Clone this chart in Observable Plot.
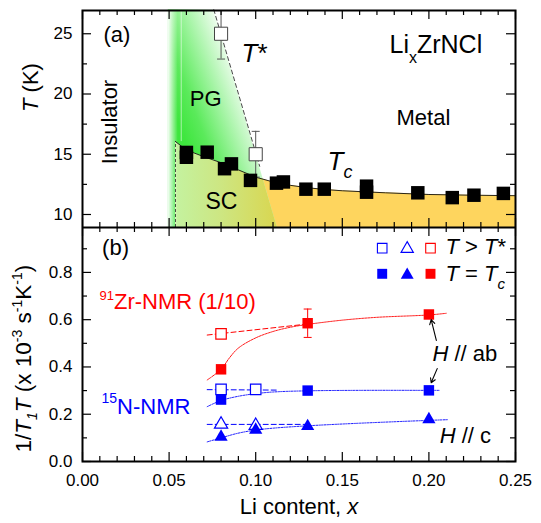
<!DOCTYPE html>
<html><head><meta charset="utf-8">
<script src="https://cdn.jsdelivr.net/npm/d3@7"></script>
<script src="https://cdn.jsdelivr.net/npm/@observablehq/plot@0.6"></script>
<style>
html,body{margin:0;padding:0;background:#fff;}
#chart{width:541px;}
#chart svg{display:block;}
</style></head><body><div id="chart"></div>
<script>
// ---------- data: panel (a) ----------
const tcX = [0.06, 0.06, 0.072, 0.082, 0.086, 0.097, 0.112, 0.116, 0.129, 0.1396, 0.164, 0.164, 0.1936, 0.2135, 0.226, 0.243];
const tcT = [15.15, 14.75, 15.17, 13.8, 14.2, 12.83, 12.6, 12.7, 12.1, 12.1, 12.35, 11.85, 11.8, 11.4, 11.6, 11.75];
const tStarX = [0.08, 0.10];
const tStarT = [25, 15];
const tStarErr = [2.1, 1.9];
const tcCurveX = [0.0537, 0.06, 0.07, 0.08, 0.09, 0.10, 0.11, 0.12, 0.13, 0.14, 0.15, 0.175, 0.20, 0.225, 0.25];
const tcCurveT = [16.05, 15.35, 14.8, 14.3, 13.7, 13.1, 12.7, 12.42, 12.22, 12.07, 11.97, 11.8, 11.66, 11.6, 11.56];
const tStarLineX = [0.0758, 0.1023];
const tStarLineT = [27, 14];
const pgEdgeX = [0.1125, 0.0758];
const pgEdgeT = [8.9, 27];
const pgLeftX = 0.0495;
const scLeftX = 0.0537;

// ---------- data: panel (b) ----------
const redOpenX = [0.08], redOpenY = [0.54];
const redX = [0.08, 0.13, 0.20], redY = [0.39, 0.585, 0.622];
const redErrX = [0.13], redErrLo = [0.525], redErrHi = [0.645];
const bSqOpenX = [0.08, 0.10], bSqOpenY = [0.305, 0.305];
const bSqX = [0.08, 0.13, 0.20], bSqY = [0.262, 0.300, 0.301];
const bTriOpenX = [0.08, 0.10], bTriOpenY = [0.157, 0.152];
const bTriX = [0.08, 0.10, 0.13, 0.20], bTriY = [0.104, 0.134, 0.149, 0.178];
const redDashX = [0.072, 0.128], redDashY = [0.535, 0.580];
const redFitX = [0.072, 0.08, 0.085, 0.09, 0.10, 0.11, 0.12, 0.13, 0.15, 0.17, 0.20, 0.21];
const redFitY = [0.345, 0.39, 0.44, 0.48, 0.523, 0.55, 0.568, 0.58, 0.598, 0.61, 0.62, 0.627];
const bSqDashX = [0.072, 0.113], bSqDashY = [0.304, 0.302];
const bSqFitX = [0.072, 0.08, 0.09, 0.10, 0.11, 0.13, 0.16, 0.20, 0.206];
const bSqFitY = [0.232, 0.258, 0.276, 0.287, 0.294, 0.299, 0.301, 0.301, 0.301];
const bTriDashX = [0.072, 0.13], bTriDashY = [0.157, 0.157];
const bTriFitX = [0.072, 0.08, 0.09, 0.10, 0.11, 0.13, 0.16, 0.20, 0.211];
const bTriFitY = [0.083, 0.10, 0.12, 0.133, 0.141, 0.151, 0.162, 0.174, 0.177];
const arrowX1 = [0.2043, 0.2048], arrowY1 = [0.512, 0.393];
const arrowX2 = [0.2013, 0.2013], arrowY2 = [0.600, 0.333];

// ---------- ticks ----------
const xMajor = [0, 0.05, 0.10, 0.15, 0.20, 0.25];
const xMinor = [0.01,0.02,0.03,0.04,0.06,0.07,0.08,0.09,0.11,0.12,0.13,0.14,0.16,0.17,0.18,0.19,0.21,0.22,0.23,0.24];
const xLabels = ["0.00", "0.05", "0.10", "0.15", "0.20", "0.25"];
const tMajor = [10, 15, 20, 25], tMinor = [12.5, 17.5, 22.5];
const tLabels = ["10", "15", "20", "25"];
const rMajor = [0, 0.2, 0.4, 0.6, 0.8], rMinor = [0.1, 0.3, 0.5, 0.7, 0.9];
const rLabels = ["0.0", "0.2", "0.4", "0.6", "0.8"];

const zip = (xs, ys, kx = "x", ky = "y") => xs.map((x, i) => ({[kx]: x, [ky]: ys[i]}));
const BLUE = "#0000ff", RED = "#ff0000";
const FONT = "'Liberation Sans', Arial, sans-serif";
const W = 541, ML = 82, MR = 26;
const FW = W - ML - MR;

function frameTicks(yMaj, yMin, fh) {
  const S = {stroke: "black", strokeWidth: 1.2};
  return [
    Plot.tickX(xMajor, {x: d => d, insetTop: fh - 9, ...S}),
    Plot.tickX(xMajor, {x: d => d, insetBottom: fh - 9, ...S}),
    Plot.tickX(xMinor, {x: d => d, insetTop: fh - 5, ...S}),
    Plot.tickX(xMinor, {x: d => d, insetBottom: fh - 5, ...S}),
    Plot.tickY(yMaj, {y: d => d, insetRight: FW - 9, ...S}),
    Plot.tickY(yMaj, {y: d => d, insetLeft: FW - 9, ...S}),
    Plot.tickY(yMin, {y: d => d, insetRight: FW - 5, ...S}),
    Plot.tickY(yMin, {y: d => d, insetLeft: FW - 5, ...S}),
    Plot.frame({stroke: "black", strokeWidth: 2})
  ];
}
const capSymbol = {draw(ctx, size) { const w = Math.sqrt(size); ctx.moveTo(-w / 2, 0); ctx.lineTo(w / 2, 0); }};
const label = (txt, o) => Plot.text([txt], {text: d => d, frameAnchor: "top-left", textAnchor: "start", lineAnchor: "middle", fill: "black", fontSize: 22, ...o});

// ---------- panel (a) ----------
const TD = [8.92, 26.93];
const topH = 227, topMT = 10, topMB = 0, FHT = topH - topMT - topMB;
const tcPts = zip(tcX, tcT, "x", "T");
const tStar = tStarX.map((x, i) => ({x, T: tStarT[i], e: tStarErr[i]}));
const tStarCaps = tStar.flatMap(d => [{x: d.x, T: d.T - d.e}, {x: d.x, T: d.T + d.e}]);
const tcCurve = zip(tcCurveX, tcCurveT, "x", "T");
const tStarLine = zip(tStarLineX, tStarLineT, "x", "T");
const pgEdge = zip(pgEdgeX, pgEdgeT, "x", "T");

const topPlot = Plot.plot({
  width: W, height: topH, marginLeft: ML, marginRight: MR, marginTop: topMT, marginBottom: topMB,
  x: {domain: [0, 0.25], axis: null},
  y: {domain: TD, axis: null},
  style: {fontFamily: FONT, fontSize: "17px", color: "black", background: "white"},
  marks: [
    Plot.areaY(tcCurve, {x: "x", y1: TD[0], y2: "T", fill: "#fed55e"}),
    Plot.areaX(pgEdge, {y: "T", x1: pgLeftX, x2: "x", fill: "url(#pgGrad)"}),
    Plot.areaY(tcCurve, {x: "x", y1: TD[0], y2: "T", fill: "url(#scGrad)"}),
    Plot.rect([0], {x1: 0.0493, x2: 0.0553, fill: "url(#fadeGrad)"}),
    Plot.ruleX([0.057], {y1: 16.05, y2: TD[1], stroke: "white", strokeOpacity: 0.55}),
    Plot.ruleX([scLeftX], {y1: TD[0], y2: 16.05, stroke: "#222", strokeWidth: 0.8, strokeDasharray: "3,2"}),
    Plot.line(tcCurve, {x: "x", y: "T", stroke: "#111", strokeWidth: 0.9}),
    Plot.line(tStarLine, {x: "x", y: "T", stroke: "#333", strokeWidth: 0.9, strokeDasharray: "4,3"}),
    Plot.ruleX(tStar, {x: "x", y1: d => d.T - d.e, y2: d => d.T + d.e, stroke: "#555", strokeWidth: 1, clip: true}),
    Plot.dot(tStarCaps, {x: "x", y: "T", symbol: capSymbol, r: 4.5, fill: "none", stroke: "#555", strokeWidth: 1, clip: true}),
    Plot.dot(tStar, {x: "x", y: "T", symbol: "square", r: 7.4, fill: "white", stroke: "#444", strokeWidth: 1}),
    Plot.dot(tcPts, {x: "x", y: "T", symbol: "square", r: 7.6, fill: "black"}),
    ...frameTicks(tMajor, tMinor, FHT),
    Plot.text(tMajor, {y: d => d, text: (d, i) => tLabels[i], frameAnchor: "left", textAnchor: "end", dx: -10, fontSize: 17, fill: "black"}),
    Plot.text(["T (K)"], {text: d => d, frameAnchor: "left", dx: -52, dy: -7, rotate: -90, fontSize: 22, fill: "black"}),
    label("(a)", {dx: 21, dy: 24.5}),
    label("LixZrNCl", {dx: 307, dy: 34, fontSize: 25}),
    label("T*", {dx: 159, dy: 43.3, fontSize: 26}),
    label("PG", {dx: 107.3, dy: 88.7}),
    label("Insulator", {dx: 27.2, dy: 111.5, rotate: -90, textAnchor: "middle"}),
    label("Metal", {dx: 314, dy: 107.5}),
    label("Tc", {dx: 245, dy: 150.8, fontSize: 26}),
    label("SC", {dx: 123, dy: 191, fontSize: 23})
  ]
});

// ---------- panel (b) ----------
const RD = [0, 0.99];
const botH = 296, botMT = 0, botMB = 62, FHB = botH - botMT - botMB;
const sq = {symbol: "square", r: 5.9};
const tri = {symbol: "triangle", r: 4.9};
const botPlot = Plot.plot({
  width: W, height: botH, marginLeft: ML, marginRight: MR, marginTop: botMT, marginBottom: botMB,
  x: {domain: [0, 0.25], axis: null},
  y: {domain: RD, axis: null},
  style: {fontFamily: FONT, fontSize: "17px", color: "black", background: "white"},
  marks: [
    Plot.line(zip(redDashX, redDashY), {x: "x", y: "y", stroke: RED, strokeWidth: 1, strokeDasharray: "5,3"}),
    Plot.line(zip(redFitX, redFitY), {x: "x", y: "y", stroke: RED, strokeWidth: 0.9, strokeDasharray: "2,1", curve: "catmull-rom"}),
    Plot.line(zip(bSqDashX, bSqDashY), {x: "x", y: "y", stroke: BLUE, strokeWidth: 1, strokeDasharray: "5,3"}),
    Plot.line(zip(bSqFitX, bSqFitY), {x: "x", y: "y", stroke: BLUE, strokeWidth: 0.9, strokeDasharray: "1.5,1.2", curve: "catmull-rom"}),
    Plot.line(zip(bTriDashX, bTriDashY), {x: "x", y: "y", stroke: BLUE, strokeWidth: 1, strokeDasharray: "5,3"}),
    Plot.line(zip(bTriFitX, bTriFitY), {x: "x", y: "y", stroke: BLUE, strokeWidth: 0.9, strokeDasharray: "1.5,1.2", curve: "catmull-rom"}),
    Plot.ruleX(redErrX, {x: d => d, y1: (d, i) => redErrLo[i], y2: (d, i) => redErrHi[i], stroke: RED, strokeWidth: 1}),
    Plot.dot(redErrX.flatMap((x, i) => [{x, y: redErrLo[i]}, {x, y: redErrHi[i]}]), {x: "x", y: "y", symbol: capSymbol, r: 4.5, fill: "none", stroke: RED, strokeWidth: 1}),
    Plot.dot(zip(redOpenX, redOpenY), {x: "x", y: "y", ...sq, fill: "white", stroke: RED, strokeWidth: 1.2}),
    Plot.dot(zip(redX, redY), {x: "x", y: "y", ...sq, fill: RED}),
    Plot.dot(zip(bSqOpenX, bSqOpenY), {x: "x", y: "y", ...sq, fill: "white", stroke: BLUE, strokeWidth: 1.2}),
    Plot.dot(zip(bSqX, bSqY), {x: "x", y: "y", ...sq, fill: BLUE}),
    Plot.dot(zip(bTriOpenX, bTriOpenY), {x: "x", y: "y", ...tri, fill: "white", stroke: BLUE, strokeWidth: 1.2}),
    Plot.dot(zip(bTriX, bTriY), {x: "x", y: "y", ...tri, fill: BLUE}),
    Plot.arrow(arrowX1.map((x, i) => ({x1: x, y1: arrowY1[i], x2: arrowX2[i], y2: arrowY2[i]})), {x1: "x1", y1: "y1", x2: "x2", y2: "y2", stroke: "black", strokeWidth: 1.1, headLength: 7}),
    ...frameTicks(rMajor, rMinor, FHB),
    Plot.text(rMajor, {y: d => d, text: (d, i) => rLabels[i], frameAnchor: "left", textAnchor: "end", dx: -10, fontSize: 17, fill: "black"}),
    Plot.text(xMajor, {x: d => d, text: (d, i) => xLabels[i], frameAnchor: "bottom", lineAnchor: "top", dy: 12, fontSize: 17, fill: "black"}),
    Plot.text(["1/T1T (x 10-3 s-1K-1)"], {text: d => d, frameAnchor: "bottom-left", textAnchor: "start", dx: -52, dy: -9, rotate: -90, fontSize: 22.5, fill: "black"}),
    Plot.text(["Li content, x"], {text: d => d, frameAnchor: "bottom", dy: 52.3, fontSize: 22, fill: "black"}),
    label("(b)", {dx: 19.6, dy: 20.5}),
    label("91Zr-NMR (1/10)", {dx: 17, dy: 74, fill: RED}),
    label("15N-NMR", {dx: 19, dy: 179, fill: BLUE}),
    label("H // ab", {dx: 350, dy: 126.3}),
    label("H // c", {dx: 357.2, dy: 208}),
    // legend
    Plot.dot([0], {frameAnchor: "top-left", dx: 299.7, dy: 20.7, symbol: "square", r: 5.4, fill: "white", stroke: BLUE, strokeWidth: 1.1}),
    Plot.dot([0], {frameAnchor: "top-left", dx: 324.7, dy: 21.3, symbol: "triangle", r: 4.6, fill: "white", stroke: BLUE, strokeWidth: 1.1}),
    Plot.dot([0], {frameAnchor: "top-left", dx: 348, dy: 20.7, symbol: "square", r: 5.4, fill: "white", stroke: RED, strokeWidth: 1.1}),
    Plot.dot([0], {frameAnchor: "top-left", dx: 299.7, dy: 46.3, symbol: "square", r: 5.6, fill: BLUE}),
    Plot.dot([0], {frameAnchor: "top-left", dx: 324.7, dy: 47.5, symbol: "triangle", r: 4.8, fill: BLUE}),
    Plot.dot([0], {frameAnchor: "top-left", dx: 348, dy: 46.3, symbol: "square", r: 5.6, fill: RED}),
    label("T > T*", {dx: 363, dy: 19.3}),
    label("T = Tc", {dx: 363, dy: 46.7})
  ]
});

// ---------- post-processing: gradients and rich text ----------
const NS = "http://www.w3.org/2000/svg";
function addDefs(svg, html) {
  const defs = document.createElementNS(NS, "defs");
  defs.innerHTML = html;
  svg.insertBefore(defs, svg.firstChild);
}
const sx = topPlot.scale("x"), sy = topPlot.scale("y");
addDefs(topPlot, `
  <linearGradient id="pgGrad" gradientUnits="userSpaceOnUse" x1="${sx.apply(0.057)}" y1="${sy.apply(17)}" x2="${sx.apply(0.0997)}" y2="${sy.apply(19.34)}">
    <stop offset="0" stop-color="#3ee63e"/>
    <stop offset="0.25" stop-color="#5bea5b"/>
    <stop offset="0.5" stop-color="#92f292"/>
    <stop offset="0.75" stop-color="#c9f8c9"/>
    <stop offset="1" stop-color="#ffffff"/>
  </linearGradient>
  <linearGradient id="scGrad" gradientUnits="userSpaceOnUse" x1="${sx.apply(0.0537)}" y1="0" x2="${sx.apply(0.1125)}" y2="0">
    <stop offset="0" stop-color="#c4f2a0"/>
    <stop offset="0.45" stop-color="#cde682"/>
    <stop offset="1" stop-color="#d9d650"/>
  </linearGradient>
  <linearGradient id="fadeGrad" x1="0" y1="0" x2="1" y2="0">
    <stop offset="0" stop-color="#ffffff" stop-opacity="1"/>
    <stop offset="1" stop-color="#ffffff" stop-opacity="0"/>
  </linearGradient>`);
function pathOf(svg, fill) {
  const el = svg.querySelector(`[fill="${fill}"]`);
  return el.tagName.toLowerCase() === "path" ? el : el.querySelector("path");
}
const pgPath = pathOf(topPlot, "url(#pgGrad)");
const clip = document.createElementNS(NS, "clipPath");
clip.setAttribute("id", "pgClip");
const cp = document.createElementNS(NS, "path");
cp.setAttribute("d", pgPath.getAttribute("d"));
clip.appendChild(cp);
topPlot.querySelector("defs").appendChild(clip);
pathOf(topPlot, "url(#scGrad)").setAttribute("clip-path", "url(#pgClip)");

function rich(svg, plain, parts) {
  for (const t of svg.querySelectorAll("text")) {
    if (t.textContent === plain) {
      t.textContent = "";
      for (const p of parts) {
        const s = document.createElementNS(NS, "tspan");
        s.textContent = p.t;
        if (p.i) s.setAttribute("font-style", "italic");
        if (p.s) s.setAttribute("font-size", p.s);
        if (p.b) s.setAttribute("baseline-shift", p.b);
        t.appendChild(s);
      }
    }
  }
}
const N = t => ({t}), I = t => ({t, i: true});
rich(topPlot, "T (K)", [I("T"), N(" (K)")]);
rich(topPlot, "LixZrNCl", [N("Li"), {t: "x", s: 16, b: -10}, N("ZrNCl")]);
rich(topPlot, "T*", [I("T"), N("*")]);
rich(topPlot, "Tc", [I("T"), {t: "c", i: true, s: 18, b: -8}]);
rich(botPlot, "1/T1T (x 10-3 s-1K-1)", [N("1/"), I("T"), {t: "1", i: true, s: 14, b: -6}, I("T"), N(" (x 10"), {t: "-3", s: 14, b: 9}, N(" s"), {t: "-1", s: 14, b: 9}, N("K"), {t: "-1", s: 14, b: 9}, N(")")]);
rich(botPlot, "Li content, x", [N("Li content, "), I("x")]);
rich(botPlot, "91Zr-NMR (1/10)", [{t: "91", s: 13, b: 9}, N("Zr-NMR (1/10)")]);
rich(botPlot, "15N-NMR", [{t: "15", s: 14, b: 11}, N("N-NMR")]);
rich(botPlot, "H // ab", [I("H"), N(" // ab")]);
rich(botPlot, "H // c", [I("H"), N(" // c")]);
rich(botPlot, "T > T*", [I("T"), N(" > "), I("T"), N("*")]);
rich(botPlot, "T = Tc", [I("T"), N(" = "), I("T"), {t: "c", i: true, s: 15, b: -8}]);

const chart = document.getElementById("chart");
chart.appendChild(topPlot);
chart.appendChild(botPlot);
</script></body></html>
